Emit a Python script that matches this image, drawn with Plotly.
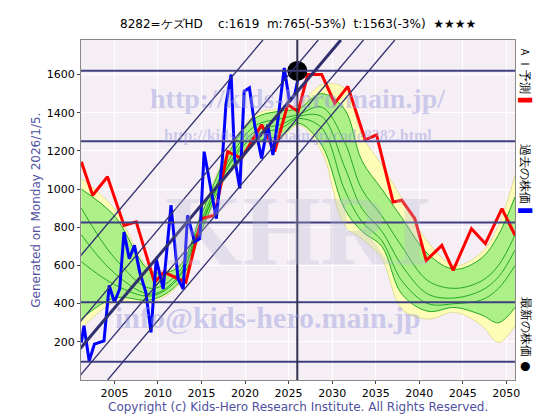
import plotly.graph_objects as go

red_x = [2001.2,2002.5,2004.2,2006.1,2007.5,2009.6,2010.7,2012.3,2013.2,2015.0,2016.5,2018.0,2019.6,2021.9,2023.4,2024.9,2026.1,2027.2,2028.8,2030.3,2031.8,2033.8,2035.1,2037.0,2038.0,2039.5,2040.8,2042.6,2043.9,2046.0,2047.6,2049.5,2051.0]
red_y = [1143,968,1065,810,828,512,565,530,512,845,863,1196,1161,1337,1196,1442,1407,1600,1600,1450,1538,1258,1284,933,942,845,626,705,574,793,714,898,758]

blue_x = [2001.2,2001.5,2002.1,2002.7,2003.8,2004.4,2005.0,2005.6,2006.1,2006.7,2007.3,2007.9,2008.6,2009.2,2009.8,2010.6,2011.5,2012.3,2012.9,2013.4,2014.2,2014.8,2015.3,2016.1,2016.7,2017.4,2017.8,2018.4,2018.8,2019.4,2019.9,2020.5,2021.1,2021.9,2022.6,2023.2,2023.8,2024.5,2025.1,2025.7,2026.1]
blue_y = [196,284,100,188,205,495,407,477,775,635,705,565,460,249,635,477,916,530,477,863,723,740,1196,1003,845,1161,1442,1600,1161,1003,1512,1530,1337,1161,1337,1179,1372,1635,1459,1494,1582]

band_x = [2001.2,2005.0,2009.2,2012.3,2015.0,2018.0,2021.1,2024.2,2026.1,2028.8,2031.4,2033.4,2035.7,2038.0,2041.0,2044.1,2047.2,2049.1,2051.0]
band_hi = [1056,898,582,600,880,1196,1389,1424,1442,1547,1530,1284,1126,951,723,600,670,810,1073]
band_lo = [267,407,407,495,775,1073,1231,1266,1337,1196,810,740,635,372,319,354,284,196,284]
green_hi = [1000,860,570,590,870,1180,1370,1410,1420,1500,1420,1150,1000,850,660,580,640,760,960]
green_lo = [320,430,420,505,785,1085,1245,1280,1345,1230,900,780,700,450,360,380,340,300,380]
mids = [
 [900,640,480,560,840,1140,1330,1370,1390,1430,1250,1000,860,700,520,480,520,600,760],
 [760,560,450,540,820,1120,1300,1340,1380,1380,1120,900,780,600,450,430,470,540,680],
 [620,500,440,530,810,1110,1280,1320,1370,1320,1000,830,730,520,400,400,420,480,600],
]

hlines = [1620, 1250, 825, 407, 96]
diag_top = [2022.05, 2028.4, 2031.0, 2033.6, 2037.2]
slope = 54.0
ymax, ymin = 1781, 0

fig = go.Figure()
fig.add_trace(go.Scatter(x=band_x, y=band_lo, mode="lines", line=dict(color="#c8c060", width=0.5, shape="spline"), showlegend=False))
fig.add_trace(go.Scatter(x=band_x, y=band_hi, mode="lines", fill="tonexty", fillcolor="#fdfdb8", line=dict(color="#c8c060", width=0.5, shape="spline"), showlegend=False))
fig.add_trace(go.Scatter(x=band_x, y=green_lo, mode="lines", line=dict(color="#22aa22", width=1, shape="spline"), showlegend=False))
fig.add_trace(go.Scatter(x=band_x, y=green_hi, mode="lines", fill="tonexty", fillcolor="#adf088", line=dict(color="#22aa22", width=1, shape="spline"), showlegend=False))
for m in mids:
    fig.add_trace(go.Scatter(x=band_x, y=m, mode="lines", line=dict(color="#22aa22", width=1, shape="spline"), showlegend=False))

shapes = []
for h in hlines:
    shapes.append(dict(type="line", xref="paper", x0=0, x1=1, y0=h, y1=h, line=dict(color="#404080", width=2)))
shapes.append(dict(type="line", x0=2026.0, x1=2026.0, yref="paper", y0=0, y1=1, line=dict(color="#303050", width=2)))
for i, t in enumerate(diag_top):
    x0 = t - (ymax - ymin) / slope
    shapes.append(dict(type="line", x0=x0, y0=ymin, x1=t, y1=ymax, line=dict(color="#303070", width=3 if i == 2 else 1.3)))
fig.update_layout(shapes=shapes)

fig.add_trace(go.Scatter(x=red_x, y=red_y, mode="lines", line=dict(color="#ff0000", width=3), showlegend=False))
fig.add_trace(go.Scatter(x=blue_x, y=blue_y, mode="lines", line=dict(color="#0000ff", width=3), showlegend=False))
fig.add_trace(go.Scatter(x=[2026.0], y=[1619], mode="markers", marker=dict(color="black", size=20), showlegend=False))

wm = "rgba(150,150,220,0.45)"
ann = [
 dict(x=0.5, y=0.88, text="<b>http://kids-hero.main.jp/</b>", font=dict(size=28, color=wm, family="Liberation Serif")),
 dict(x=0.5, y=0.75, text="<b>http://kids-hero.main.jp/code8282.html</b>", font=dict(size=16, color=wm, family="Liberation Serif")),
 dict(x=0.5, y=0.44, text="<b>KHRI</b>", font=dict(size=100, color="rgba(180,180,210,0.3)", family="Liberation Serif")),
 dict(x=0.43, y=0.13, text="<b>info@kids-hero.main.jp</b>", font=dict(size=30, color=wm, family="Liberation Serif")),
]
for a in ann:
    a.update(xref="paper", yref="paper", showarrow=False)
fig.update_layout(annotations=ann + [
 dict(xref="paper", yref="paper", x=0.5, y=1.02, yanchor="bottom", showarrow=False,
      text="8282=ケズHD    c:1619  m:765(-53%)  t:1563(-3%)  ★★★★", font=dict(size=12, color="black")),
 dict(xref="paper", yref="paper", x=-0.125, y=0.5, textangle=-90, showarrow=False,
      text="Generated on Monday 2026/1/5.", font=dict(size=12, color="#5050a0")),
 dict(xref="paper", yref="paper", x=0.5, y=-0.105, showarrow=False,
      text="Copyright (c) Kids-Hero Research Institute. All Rights Reserved.", font=dict(size=12, color="#5050a0")),
 dict(xref="paper", yref="paper", x=1.045, y=0.99, yanchor="top", textangle=90, showarrow=False,
      text="ＡＩ予測 <span style='color:red'>▌</span>", font=dict(size=12, color="black")),
 dict(xref="paper", yref="paper", x=1.045, y=0.7, yanchor="top", textangle=90, showarrow=False,
      text="過去の株価 <span style='color:blue'>▌</span>", font=dict(size=12, color="black")),
 dict(xref="paper", yref="paper", x=1.045, y=0.25, yanchor="top", textangle=90, showarrow=False,
      text="最新の株価 ●", font=dict(size=12, color="black")),
])

fig.update_layout(
    width=560, height=420, margin=dict(l=73, r=53, t=32, b=48),
    paper_bgcolor="white", plot_bgcolor="#f5eff5",
    font=dict(family="DejaVu Sans", size=11, color="black"),
    xaxis=dict(range=[2001.16, 2051.0], tickvals=[2005,2010,2015,2020,2025,2030,2035,2040,2045,2050],
               showgrid=True, gridcolor="white", ticks="outside", ticklen=3, mirror=True,
               showline=True, linecolor="#888", zeroline=False),
    yaxis=dict(range=[0, 1781], tickvals=[200,400,600,800,1000,1200,1400,1600],
               showgrid=True, gridcolor="white", ticks="outside", ticklen=3, mirror=True,
               showline=True, linecolor="#888", zeroline=False),
)
fig.write_html("out.html")
